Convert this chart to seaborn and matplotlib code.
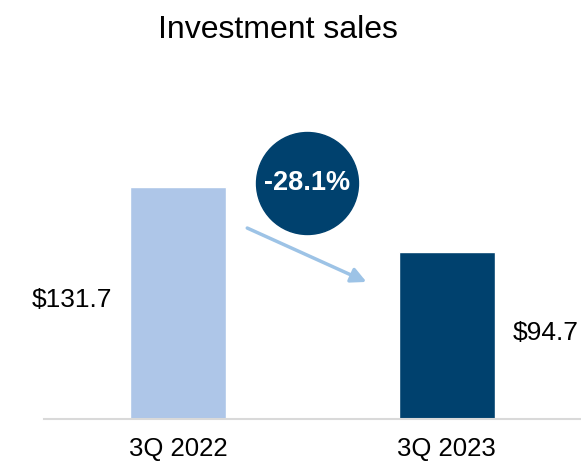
import matplotlib
matplotlib.use("Agg")
import matplotlib.pyplot as plt
import seaborn as sns

# data
periods = ["3Q 2022", "3Q 2023"]
sales = [131.7, 94.7]
value_labels = ["$131.7", "$94.7"]
change_label = "-28.1%"
bar_colors = ["#AEC6E8", "#00416E"]

sns.set_style("white")
plt.rcParams['font.family'] = ['Liberation Sans', 'DejaVu Sans']
plt.rcParams['text.color'] = 'black'
plt.rcParams['xtick.color'] = 'black'

fig = plt.figure(figsize=(5.81, 4.61), dpi=100)
ax = fig.add_axes([44 / 581, 42 / 461, 537 / 581, 359 / 461])

sns.barplot(x=periods, y=sales, hue=periods, palette=bar_colors, legend=False,
            width=0.358, saturation=1, ax=ax)

ax.set_xlim(-0.5, 1.5)
ax.set_ylim(0, 359 / 1.7616)
ax.set_xlabel("")
ax.set_ylabel("")
ax.set_yticks([])
sns.despine(ax=ax, left=True)
ax.spines['bottom'].set_color("#D9D9D9")
ax.spines['bottom'].set_linewidth(1.5)
ax.tick_params(axis='x', length=0, labelsize=18.5, pad=13)

# value labels beside the bars
ax.text(-0.396, 67.6, value_labels[0], ha='center', va='center', fontsize=19)
ax.text(1.368, 48.8, value_labels[1], ha='center', va='center', fontsize=19)

# arrow showing the drop
ax.annotate("", xy=(0.701, 77.8), xytext=(0.257, 108.4),
            arrowprops=dict(arrowstyle="-|>,head_length=0.9,head_width=0.45",
                            color="#9DC3E6", lw=2.5, shrinkA=0, shrinkB=0))

# change bubble
ax.scatter([0.478], [134], s=5390, color="#00416E", zorder=5, clip_on=False)
ax.text(0.478, 134, change_label, ha='center', va='center', color='white',
        fontsize=19.5, fontweight='bold', zorder=6)

fig.text(278 / 581, 1 - 30 / 461, "Investment sales", ha='center', va='center',
         fontsize=23)

fig.savefig("out.png", dpi=100)
